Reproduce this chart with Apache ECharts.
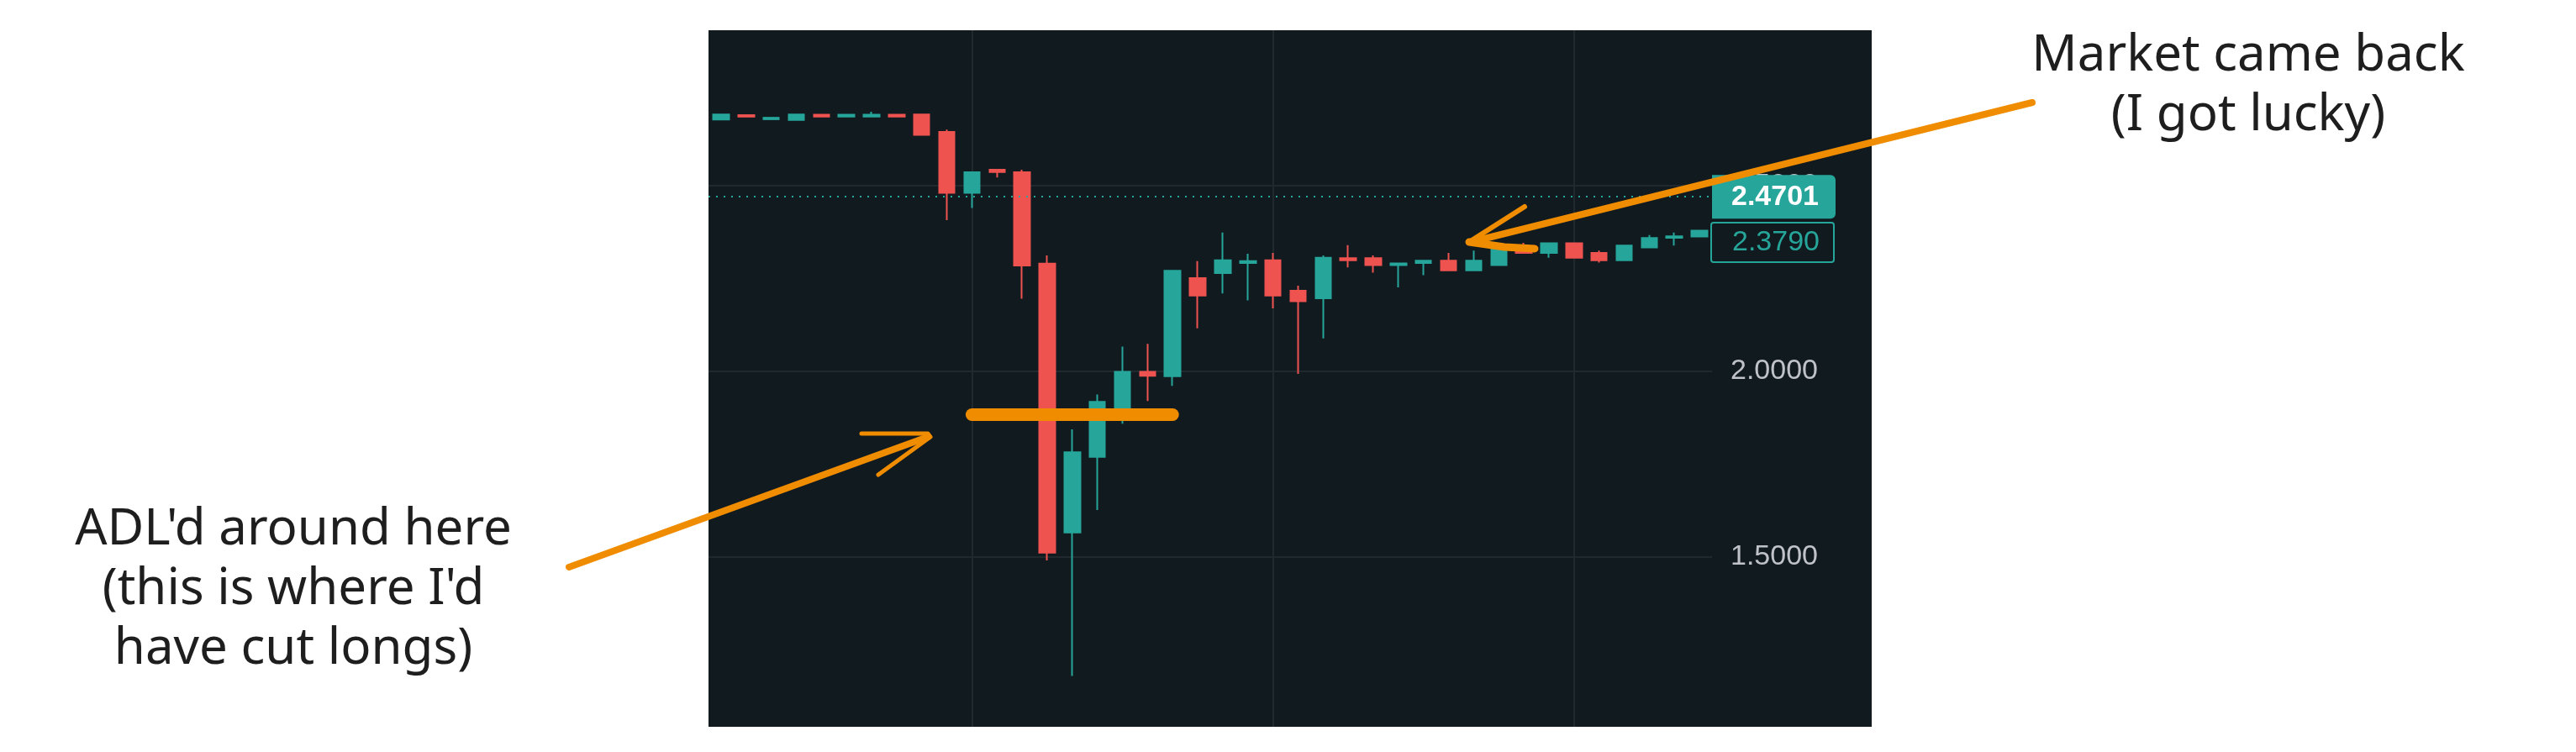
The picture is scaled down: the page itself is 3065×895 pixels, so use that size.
<!DOCTYPE html>
<html>
<head>
<meta charset="utf-8">
<script src="https://cdn.jsdelivr.net/npm/echarts@6/dist/echarts.min.js"></script>
<style>
  html, body { margin: 0; padding: 0; background: #ffffff; }
  #chart { width: 3065px; height: 895px; }
</style>
</head>
<body>
<div id="chart"></div>
<script>
// ---------------- DATA ----------------
const categories = ['1','2','3','4','5','6','7','8','9','10','11','12','13','14','15','16','17','18','19','20',
                    '21','22','23','24','25','26','27','28','29','30','31','32','33','34','35','36','37','38','39','40'];
const opens  = [2.678,2.690,2.679,2.677,2.691,2.686,2.686,2.691,2.692,2.645,2.481,2.543,2.536,2.290,1.566,1.770,1.880,1.999,1.987,2.251,
                2.265,2.292,2.299,2.217,2.197,2.305,2.305,2.286,2.292,2.298,2.272,2.286,2.336,2.319,2.345,2.319,2.299,2.334,2.360,2.363];
const closes = [2.692,2.686,2.683,2.692,2.686,2.691,2.691,2.686,2.637,2.481,2.536,2.537,2.285,1.512,1.782,1.918,1.999,1.988,2.271,2.204,
                2.299,2.297,2.204,2.189,2.306,2.299,2.286,2.291,2.298,2.272,2.298,2.331,2.319,2.345,2.306,2.299,2.339,2.359,2.364,2.379];
const lows   = [2.678,2.686,2.679,2.677,2.686,2.686,2.686,2.686,2.637,2.407,2.440,2.522,2.196,1.491,1.180,1.627,1.859,1.920,1.961,2.116,
                2.210,2.191,2.170,1.993,2.089,2.280,2.266,2.226,2.259,2.272,2.272,2.286,2.319,2.306,2.306,2.293,2.299,2.334,2.339,2.363];
const highs  = [2.692,2.690,2.683,2.692,2.691,2.691,2.699,2.691,2.692,2.651,2.536,2.543,2.543,2.312,1.844,1.938,2.067,2.074,2.271,2.297,
                2.374,2.317,2.319,2.231,2.312,2.340,2.312,2.293,2.298,2.319,2.325,2.331,2.346,2.345,2.345,2.325,2.339,2.367,2.374,2.379];

const prevPrice = 2.4701;     // dotted line + filled label
const lastPrice = 2.3790;     // outlined label
const adlLevel  = 1.884;      // orange hand-drawn level
const adlFrom   = '11';
const adlTo     = '19';
const sessionLines = ['11', '23', '35'];   // vertical grid lines
const yMin = 1.043;
const yMax = 2.9186;
const yStep = 0.5;
const priceDigits = 4;

const annotationLeft  = "ADL'd around here\n(this is where I'd\nhave cut longs)";
const annotationRight = "Market came back\n(I got lucky)";

// ---------------- STYLE ----------------
const UP = '#26a69a', DOWN = '#ef5350', BG = '#111a1f', GRID = '#1f292e', ORANGE = '#f08c00';
const AX_FONT = '"Liberation Sans", Arial, sans-serif';
const HAND_FONT = '"Noto Sans", sans-serif';

const candleData = categories.map((c, i) => [opens[i], closes[i], lows[i], highs[i]]);

const chart = echarts.init(document.getElementById('chart'), null, { renderer: 'canvas' });

chart.setOption({
  backgroundColor: '#ffffff',
  animation: false,
  grid: {
    left: 843, top: 36, width: 1194, height: 829,
    containLabel: false, outerBoundsMode: 'none', show: false
  },
  xAxis: {
    type: 'category',
    data: categories,
    boundaryGap: true,
    axisLine: { show: false },
    axisTick: { show: false },
    axisLabel: { show: false },
    splitLine: { show: false }
  },
  yAxis: {
    type: 'value',
    position: 'right',
    min: yMin,
    max: yMax,
    splitNumber: 4,
    minInterval: yStep,
    maxInterval: yStep,
    axisLine: { show: false },
    axisTick: { show: false },
    axisLabel: {
      show: true,
      margin: 22,
      align: 'left',
      color: '#bfc3c9',
      fontSize: 34,
      fontFamily: AX_FONT,
      showMinLabel: false,
      showMaxLabel: false,
      formatter: v => v.toFixed(priceDigits)
    },
    splitLine: {
      show: true,
      showMinLine: false,
      showMaxLine: false,
      lineStyle: { color: GRID, width: 2 }
    }
  },
  series: [
    {
      type: 'line',
      data: [],
      showSymbol: false,
      silent: true,
      markLine: {
        z: 1,
        silent: true,
        animation: false,
        symbol: ['none', 'none'],
        label: { show: false },
        lineStyle: { color: GRID, width: 2, type: 'solid' },
        data: sessionLines.map(c => ({ xAxis: c }))
      }
    },
    {
      type: 'candlestick',
      data: candleData,
      barWidth: 19,
      itemStyle: {
        color: UP, borderColor: UP,
        color0: DOWN, borderColor0: DOWN,
        borderWidth: 2
      },
      markLine: {
        z: 5,
        silent: true,
        animation: false,
        precision: priceDigits,
        symbol: ['none', 'none'],
        data: [
          {
            yAxis: prevPrice,
            lineStyle: { color: UP, width: 2, type: [2, 7] },
            label: {
              show: true,
              position: 'end',
              distance: 0,
              formatter: () => prevPrice.toFixed(priceDigits),
              color: '#ffffff',
              fontSize: 34,
              fontWeight: 'bold',
              fontFamily: AX_FONT,
              backgroundColor: UP,
              borderRadius: [0, 6, 6, 0],
              padding: [8, 0, 8, 23],
              width: 124,
              lineHeight: 36,
              align: 'left'
            }
          },
          {
            yAxis: lastPrice,
            lineStyle: { color: 'rgba(0,0,0,0)', width: 0 },
            label: {
              show: true,
              position: 'end',
              distance: 0,
              offset: [0, 14],
              formatter: () => lastPrice.toFixed(priceDigits),
              color: UP,
              opacity: 1,
              fontSize: 34,
              fontFamily: AX_FONT,
              backgroundColor: BG,
              borderColor: UP,
              borderWidth: 2,
              borderRadius: 2,
              padding: [5, 0, 5, 24],
              width: 120,
              lineHeight: 35,
              align: 'left'
            }
          },
          [
            { coord: [adlFrom, adlLevel], lineStyle: { color: ORANGE, width: 15, cap: 'round', type: 'solid' }, label: { show: false } },
            { coord: [adlTo, adlLevel] }
          ]
        ]
      }
    }
  ],
  graphic: {
    elements: [
      {
        type: 'rect', z: -10, silent: true,
        shape: { x: 843, y: 36, width: 1384, height: 829 },
        style: { fill: BG }
      },
      // left arrow
      {
        type: 'line', z: 50, silent: true,
        shape: { x1: 677, y1: 675, x2: 1104, y2: 520 },
        style: { stroke: ORANGE, lineWidth: 8, lineCap: 'round' }
      },
      {
        type: 'polyline', z: 50, silent: true,
        shape: { points: [[1025, 516], [1104, 516], [1107, 520], [1045, 565]] },
        style: { stroke: ORANGE, lineWidth: 5, lineCap: 'round', lineJoin: 'round', fill: null }
      },
      // right arrow
      {
        type: 'line', z: 50, silent: true,
        shape: { x1: 2418, y1: 122, x2: 1750, y2: 288 },
        style: { stroke: ORANGE, lineWidth: 8, lineCap: 'round' }
      },
      {
        type: 'polyline', z: 50, silent: true,
        shape: { points: [[1814, 246], [1748, 288]] },
        style: { stroke: ORANGE, lineWidth: 6, lineCap: 'round', lineJoin: 'round', fill: null }
      },
      {
        type: 'polyline', z: 50, silent: true,
        shape: { points: [[1748, 288], [1790, 294], [1826, 296]] },
        style: { stroke: ORANGE, lineWidth: 9, lineCap: 'round', lineJoin: 'round', fill: null }
      },
      // annotation texts
      {
        type: 'text', z: 50, silent: true,
        style: {
          text: annotationLeft, x: 349, y: 702,
          fill: '#1e1e1e', font: '60px ' + HAND_FONT,
          align: 'center', verticalAlign: 'middle', lineHeight: 71
        }
      },
      {
        type: 'text', z: 50, silent: true,
        style: {
          text: annotationRight, x: 2675, y: 102,
          fill: '#1e1e1e', font: '60px ' + HAND_FONT,
          align: 'center', verticalAlign: 'middle', lineHeight: 71
        }
      }
    ]
  }
});
</script>
</body>
</html>
